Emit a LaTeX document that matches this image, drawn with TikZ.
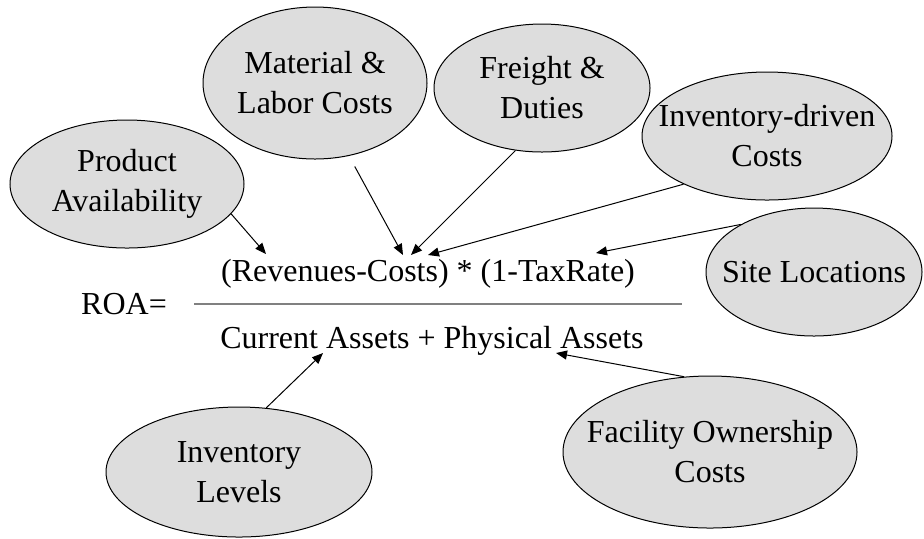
\documentclass[tikz,border=0pt]{standalone}
\usepackage{fontspec}
\setmainfont{Liberation Serif}
\usetikzlibrary{shapes.geometric,arrows.meta}

\definecolor{bubble}{RGB}{221,221,221}
\definecolor{barline}{RGB}{128,128,128}

\begin{document}
\begin{tikzpicture}[x=0.5pt,y=-0.5pt,
    factor/.style={ellipse,draw,fill=bubble,line width=0.5pt,inner sep=0pt},
    words/.style={font=\fontsize{16}{20}\selectfont,align=center,inner sep=0pt},
    formula/.style={font=\fontsize{16}{20}\selectfont,inner sep=0pt,anchor=base},
    feed/.style={line width=0.5pt,-{Triangle[length=5.5pt,width=4.5pt]}}]
    \useasboundingbox (0,0) rectangle (924,538);

    % the ratio
    \node[formula] (roa) at (124,314) {ROA=};
    \node[formula] (num) at (428,281) {(Revenues-Costs) * (1-TaxRate)};
    \node[formula] (den) at (432,348) {Current Assets + Physical Assets};
    \draw[barline,line width=1pt] (194,304) -- (682,304);

    % drivers above the bar
    \node[factor,minimum width=117pt,minimum height=64pt] (prod) at (127,184) {};
    \node[words] (prodtxt) at (prod) {Product\\Availability};
    \node[factor,minimum width=112pt,minimum height=76pt] (matl) at (315,83) {};
    \node[words] (matltxt) at (matl) {Material \&\\Labor Costs};
    \node[factor,minimum width=108pt,minimum height=64pt] (frt) at (542,88) {};
    \node[words] (frttxt) at (frt) {Freight \&\\Duties};
    \node[factor,minimum width=125pt,minimum height=64pt] (invc) at (767,136) {};
    \node[words] (invctxt) at (invc) {Inventory-driven\\Costs};
    \node[factor,minimum width=108pt,minimum height=64pt] (site) at (814,272) {};
    \node[words] (sitetxt) at (site) {Site Locations};

    % drivers below the bar
    \node[factor,minimum width=133pt,minimum height=65pt] (invl) at (239,472) {};
    \node[words] (invltxt) at (invl) {Inventory\\Levels};
    \node[factor,minimum width=147pt,minimum height=76pt] (fac) at (710,452) {};
    \node[words] (factxt) at (fac) {Facility Ownership\\Costs};

    % arrow ends on the formula
    \coordinate (inA) at (266,254);
    \coordinate (inB) at (403,255);
    \coordinate (inC) at (411,255);
    \coordinate (inD) at (428,255);
    \coordinate (inE) at (596,253);
    \coordinate (inF) at (323,353);
    \coordinate (inG) at (556,353);

    \draw[feed] (prod.-16) -- (inA);
    \draw[feed,shorten <=6pt] (matl.-65) -- (inB);
    \draw[feed] (frt.-113) -- (inC);
    \draw[feed] (invc.-150) -- (inD);
    \draw[feed] (site.147) -- (inE);
    \draw[feed] (invl.67) -- (inF);
    \draw[feed] (fac.109) -- (inG);
\end{tikzpicture}
\end{document}
